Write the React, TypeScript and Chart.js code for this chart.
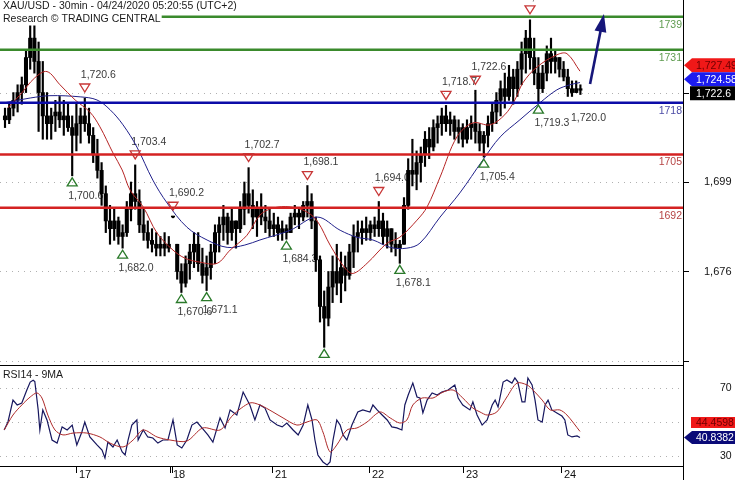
import React, { useEffect, useRef } from "react";
import { Chart, registerables } from "chart.js";
Chart.register(...registerables);

const FONT = '"Liberation Sans", Arial, Helvetica, sans-serif';

// ---- hourly price bars (index 0 = first bar on the left) ----
const opens = [1716,1715,1718,1720,1722,1724,1731,1736,1730,1722,
 1716,1714,1716,1717,1715,1716,1713,1711,1714,1716,
 1714,1711,1706,1702,1696,1689,1687,1689,1685,1686,
 1692,1696,1694,1688,1686,1684,1683,1682,1683,1682,
 1690,1683,1676,1673,1678,1681,1683,1678,1675,1677,
 1681,1686,1688,1690,1686,1689,1687,1692,1696,1693,
 1690,1692,1690,1689,1687,1688,1686,1687,1686,1690,
 1691,1690,1693,1694,1689,1679,1667,1664,1672,1676,
 1673,1677,1675,1681,1685,1686,1687,1686,1688,1687,
 1689,1685,1687,1683,1682,1683,1693,1702,1701,1704,
 1706,1710,1708,1713,1714,1716,1714,1715,1712,1713,
 1710,1713,1714,1712,1709,1711,1714,1717,1720,1723,
 1721,1726,1723,1728,1732,1736,1731,1727,1723,1727,
 1732,1730,1731,1728,1726,1723,1722,1723];
const highs = [1718,1719,1722,1724,1726,1733,1741,1741,1735,1730,
 1722,1718,1720,1721,1720,1719,1716,1719,1718,1720.6,
 1718,1713,1710,1704,1698,1693,1692,1690,1688,1694,
 1699,1703.4,1697,1692,1689,1687,1686,1685,1686,1685,
 1690.2,1683,1678,1680,1683,1686,1686,1682,1680,1683,
 1688,1690,1693,1691,1692,1689,1694,1699,1702.7,1697,
 1694,1696,1693,1692,1691,1690,1689,1688,1691,1693,
 1692,1694,1698.1,1696,1690,1680,1671,1676,1680,1683,
 1681,1680,1683,1688,1689,1689,1690,1689,1690,1694.0,
 1691,1689,1687,1686,1684,1695,1705,1710,1707,1708,
 1712,1713,1715,1716,1718,1718.7,1717,1716,1715,1714,
 1715,1716,1722.6,1714,1712,1716,1719,1722,1725,1727,
 1729,1728,1730,1735,1738,1740.7,1736,1731,1729,1734,
 1736,1733,1731,1730,1728,1725,1725,1724];
const lows = [1713,1714,1716,1717,1719,1722,1728,1727,1712,1710,
 1710,1710,1712,1713,1711,1712,1700.6,1707,1709,1712,
 1709,1704,1700,1693,1686,1683,1684,1683,1682,1685,
 1689,1692,1686,1684,1682,1681,1680,1680,1680,1681,
 1689.8,1674,1670.6,1672,1674,1677,1676,1673,1671.1,1674,
 1678,1681,1684,1683,1684,1682,1686,1688,1691,1687,
 1685,1688,1686,1685,1685,1684,1684,1684.3,1686,1688,
 1687,1689,1690,1687,1676,1663,1656.5,1662,1668,1670,
 1668,1671,1674,1677,1681,1683,1684,1684,1685,1685,
 1683,1682,1681,1680,1678.1,1683,1692,1698,1697,1699,
 1703,1705,1707,1709,1711,1712,1711,1710,1709,1708,
 1709,1710,1709,1707,1705.4,1708,1712,1714,1716,1718,
 1720,1719,1721,1724,1727,1728,1724,1719.3,1722,1725,
 1727,1727,1726,1725,1721,1721,1722,1721.5];
const closes = [1715,1718,1720,1722,1724,1731,1736,1730,1722,1716,
 1714,1716,1717,1715,1716,1713,1711,1714,1716,1714,
 1711,1706,1702,1696,1689,1687,1689,1685,1686,1692,
 1696,1694,1688,1686,1684,1683,1682,1683,1682,1683,
 1690,1676,1673,1678,1681,1683,1678,1675,1677,1681,
 1686,1688,1690,1686,1689,1687,1692,1696,1693,1690,
 1692,1690,1689,1687,1688,1686,1687,1686,1690,1691,
 1690,1693,1694,1689,1679,1667,1664,1672,1676,1673,
 1677,1675,1681,1685,1686,1687,1686,1688,1687,1689,
 1685,1687,1683,1682,1683,1693,1702,1701,1704,1706,
 1710,1708,1713,1714,1716,1714,1715,1712,1713,1710,
 1713,1714,1712,1709,1711,1714,1717,1720,1723,1721,
 1726,1723,1728,1732,1736,1731,1727,1723,1727,1732,
 1730,1731,1728,1726,1723,1722,1723,1722.6];

// ---- moving averages (bar position, price) ----
const maFastX = [0.7,3.6,7.1,10.0,13.1,16.7,20.2,22.6,25.7,27.9,29.8,32.9,36.2,40.0,42.9,46.4,50.5,53.6,57.6,60.7,63.8,67.9,71.9,74.5,77.4,81.0,82.9,86.2,91.0,94.0,98.1,100.5,103.6,107.6,111.4,115.5,119.0,121.4,123.3,126.7,131.4,133.8,136.9];
const maFastV = [1718.1,1721.4,1725.8,1727.4,1724.0,1720.1,1717.0,1713.2,1706.5,1702.1,1696.9,1692.6,1685.9,1681.5,1679.4,1678.4,1678.1,1681.5,1685.3,1690.5,1692.3,1692.6,1691.3,1688.7,1682.8,1676.8,1675.5,1678.1,1683.3,1684.8,1689.2,1692.6,1700.3,1710.6,1714.2,1713.7,1716.3,1720.1,1724.5,1728.6,1731.7,1732.0,1727.49];
const maSlowX = [0,6.0,10.7,17.9,21.9,25.0,28.1,31.4,35.2,38.6,43.3,48.1,52.9,57.1,60.7,67.9,74.3,79.8,83.8,87.6,91.7,95.7,98.8,103.6,108.3,113.8,117.9,122.6,127.4,131.4,134.5,136.9];
const maSlowV = [1719.4,1720.6,1721.2,1720.9,1720.1,1717.6,1713.7,1708.0,1699.5,1693.6,1687.4,1684.1,1682.2,1682.8,1684.1,1686.6,1690.0,1686.6,1684.8,1684.1,1682.2,1682.0,1683.3,1690.0,1696.2,1704.7,1710.6,1715.0,1719.4,1722.7,1724.0,1724.58];

// ---- key levels ----
const levelValues = [1741.5, 1733.0, 1719.4, 1706.1, 1692.4];
const levelLabels = ["1739", "1731", "1718", "1705", "1692"];
const levelColors = ["#3a8a2c", "#3a8a2c", "#0c0ca8", "#d42222", "#d42222"];
const levelTextColors = ["#5f9c50", "#5f9c50", "#4c4ca6", "#b64444", "#b64444"];

// ---- swing annotations ----
const resistX = [19, 31, 40, 58, 72, 89, 105, 112, 125];
const resistV = [1720.6, 1703.4, 1690.2, 1702.7, 1698.1, 1694.0, 1718.7, 1722.6, 1740.7];
const supportX = [16, 28, 42, 48, 67, 76, 94, 114, 127];
const supportV = [1700.6, 1682.0, 1670.6, 1671.1, 1684.3, 1656.5, 1678.1, 1705.4, 1719.3];
const noteX = [135.7];
const noteV = [1720.0];

// ---- forecast arrow ----
const arrowX = [139.3, 142.6];
const arrowV = [1724.2, 1742.2];

// ---- axes ----
const dayLabels = ["17", "18", "21", "22", "23", "24"];
const dayPos = [16.9, 39.3, 63.5, 86.7, 109.1, 132.4];
const extraTickPos = [39.8];
const priceGrid = [1653, 1676, 1699, 1722];
const priceTickLabels = [1699, 1676];
const lastPrice = 1722.6;
const fastLast = 1727.49;
const slowLast = 1724.58;

// ---- RSI ----
const rsiX = [-0.2,0.7,1.9,2.9,4.0,5.2,6.0,6.7,7.1,7.9,8.3,9.0,10.0,11.2,12.4,13.6,14.8,16.0,17.1,18.3,19.0,20.2,21.9,23.1,23.8,24.5,25.7,26.7,27.9,28.6,29.3,30.2,31.4,31.7,32.9,34.0,35.2,36.4,37.6,38.8,40.0,41.0,42.1,43.3,44.5,45.7,46.9,48.3,49.5,51.2,52.4,53.6,55.2,56.7,58.3,59.5,60.7,61.9,63.1,64.8,66.0,67.1,68.6,69.8,71.0,72.1,73.1,73.8,74.5,75.7,76.7,77.4,78.1,79.0,79.8,80.5,81.4,82.6,84.0,85.2,86.9,87.6,88.6,89.8,91.0,92.1,93.3,94.5,95.2,96.0,97.1,98.1,98.8,99.5,100.5,101.7,102.9,104.0,105.5,107.1,107.9,109.0,110.7,111.4,112.4,113.6,114.8,116.0,116.7,117.4,118.6,119.5,120.7,121.4,122.1,123.1,123.8,124.5,125.5,126.2,126.9,127.9,128.6,129.3,130.2,131.4,132.6,133.3,134.0,135.0,136.2,136.9];
const rsiV = [45.3,50.0,62.9,60.0,61.2,68.8,73.5,74.6,73.8,57.1,45.3,57.1,51.2,39.4,37.6,47.1,45.3,48.2,36.5,44.1,50.0,41.2,36.5,33.5,28.8,38.2,35.3,39.4,32.4,30.6,39.4,48.2,51.2,39.4,45.3,41.2,40.6,37.6,39.4,39.4,51.2,36.5,34.7,39.4,48.2,50.0,46.5,42.4,38.2,52.4,46.5,57.1,54.1,67.6,60.0,51.2,60.0,58.2,51.2,48.2,47.1,49.4,45.3,42.4,48.2,60.0,51.2,39.4,30.6,26.5,24.7,26.5,39.4,51.2,48.2,42.4,39.4,48.2,55.9,57.1,55.9,60.0,57.1,54.1,51.2,47.1,46.5,45.3,60.0,65.9,72.9,64.7,64.1,55.3,62.9,67.1,65.9,67.6,68.8,71.8,64.1,60.0,57.1,61.8,54.1,48.2,51.2,60.0,62.9,58.8,73.5,74.7,72.9,75.9,73.5,61.8,61.8,75.9,71.8,62.9,51.2,50.0,60.0,62.9,57.1,55.3,53.5,51.2,42.4,41.2,41.8,40.84];
const rsiMaX = [-0.2,1.9,4.0,6.0,7.6,8.8,10.2,11.9,13.8,16.2,19.5,22.6,25.0,28.1,30.5,32.9,36.2,39.3,43.3,47.1,51.2,54.3,58.3,60.7,63.8,66.2,69.5,71.9,74.3,75.7,77.4,79.0,81.4,83.8,86.2,89.3,91.7,94.0,95.7,97.1,99.3,101.9,104.3,106.7,109.0,111.4,113.1,114.8,117.1,119.5,121.9,124.3,125.7,127.9,129.8,132.1,133.8,136.9];
const rsiMaV = [45.3,54.1,60.0,64.7,67.1,64.1,54.1,45.3,42.4,43.5,43.5,41.2,37.6,35.3,39.4,45.3,41.2,39.4,38.8,46.5,45.3,54.1,61.2,60.0,55.9,52.4,48.2,50.0,51.2,44.1,32.4,36.5,45.3,46.5,50.0,55.9,52.4,49.4,51.2,60.0,64.1,64.1,67.6,68.8,64.1,58.2,55.9,54.1,55.9,64.7,72.9,71.8,68.8,62.9,57.1,57.1,54.1,44.46];
const rsiGrid = [70, 50, 30];
const rsiTickLabels = [70, 30];
const rsiLast = 40.8382;
const rsiMaLast = 44.4598;

// ---- view ranges ----
const X_MIN = -1.19;
const X_MAX = 161.43;
const Y_MIN = 1651.7;
const Y_MAX = 1745.8;
const R_MIN = 23.53;
const R_MAX = 82.94;

const W = 735;
const MAIN_H = 366;
const RSI_H = 114;

const fmt = (v: number, d = 1) =>
  v.toLocaleString("en-US", { minimumFractionDigits: d, maximumFractionDigits: d });

function hLine(ctx: CanvasRenderingContext2D, x0: number, x1: number, y: number) {
  ctx.beginPath();
  ctx.moveTo(x0, y);
  ctx.lineTo(x1, y);
  ctx.stroke();
}

function tag(ctx: CanvasRenderingContext2D, cy: number, h: number, fill: string, text: string, color: string, tip: boolean, left: number) {
  ctx.fillStyle = fill;
  ctx.beginPath();
  if (tip) {
    ctx.moveTo(684, cy);
    ctx.lineTo(692, cy - h / 2);
    ctx.lineTo(W, cy - h / 2);
    ctx.lineTo(W, cy + h / 2);
    ctx.lineTo(692, cy + h / 2);
    ctx.closePath();
  } else {
    ctx.rect(left, cy - h / 2, W - left, h);
  }
  ctx.fill();
  ctx.fillStyle = color;
  ctx.textAlign = "left";
  ctx.textBaseline = "middle";
  ctx.font = `10.5px ${FONT}`;
  ctx.fillText(text, 696, cy + 0.5);
}

const mainPlugin = {
  id: "mainDecor",
  beforeDatasetsDraw(chart: any) {
    const { ctx, chartArea: a } = chart;
    const xs = chart.scales.x;
    const ys = chart.scales.y;
    ctx.save();
    ctx.strokeStyle = "#b0b0b0";
    ctx.lineWidth = 1;
    ctx.setLineDash([1, 5]);
    priceGrid.forEach((v) => hLine(ctx, a.left, a.right, Math.round(ys.getPixelForValue(v)) + 0.5));
    ctx.setLineDash([]);
    ctx.beginPath();
    ctx.rect(a.left, a.top, a.right - a.left, a.bottom - a.top);
    ctx.clip();
    ctx.font = `10.5px ${FONT}`;
    ctx.fillStyle = "#3a3a3a";
    ctx.textAlign = "left";
    ctx.textBaseline = "middle";
    resistX.forEach((bx, k) => {
      const px = xs.getPixelForValue(bx);
      const apex = ys.getPixelForValue(resistV[k]) - 6;
      ctx.fillText(fmt(resistV[k]), px - 4, apex - 17);
    });
    supportX.forEach((bx, k) => {
      const px = xs.getPixelForValue(bx);
      const top = ys.getPixelForValue(supportV[k]) + 2;
      if (top + 18 < a.bottom - 8) ctx.fillText(fmt(supportV[k]), px - 4, top + 18);
    });
    noteX.forEach((bx, k) => {
      const px = xs.getPixelForValue(bx);
      const top = ys.getPixelForValue(noteV[k]) + 2;
      ctx.fillText(fmt(noteV[k]), px - 4, top + 16);
    });
    ctx.restore();
  },
  afterDatasetsDraw(chart: any) {
    const { ctx, chartArea: a } = chart;
    const xs = chart.scales.x;
    const ys = chart.scales.y;
    ctx.save();
    // key levels
    ctx.font = `10.5px ${FONT}`;
    ctx.textBaseline = "middle";
    levelValues.forEach((v, k) => {
      const py = ys.getPixelForValue(v);
      ctx.strokeStyle = levelColors[k];
      ctx.lineWidth = 2.5;
      hLine(ctx, a.left, a.right, py);
      ctx.fillStyle = levelTextColors[k];
      ctx.textAlign = "right";
      ctx.fillText(levelLabels[k], a.right - 1, py + 8);
    });
    // triangles
    ctx.save();
    ctx.beginPath();
    ctx.rect(a.left, a.top, a.right - a.left, a.bottom - a.top);
    ctx.clip();
    ctx.lineWidth = 1.3;
    ctx.strokeStyle = "#c83636";
    resistX.forEach((bx, k) => {
      const px = xs.getPixelForValue(bx);
      const apex = ys.getPixelForValue(resistV[k]) - 6;
      ctx.beginPath();
      ctx.moveTo(px - 5, apex - 8);
      ctx.lineTo(px + 5, apex - 8);
      ctx.lineTo(px, apex);
      ctx.closePath();
      ctx.stroke();
    });
    ctx.strokeStyle = "#2a7a2a";
    supportX.forEach((bx, k) => {
      const px = xs.getPixelForValue(bx);
      const top = ys.getPixelForValue(supportV[k]) + 2;
      ctx.beginPath();
      ctx.moveTo(px - 5, top + 8);
      ctx.lineTo(px + 5, top + 8);
      ctx.lineTo(px, top);
      ctx.closePath();
      ctx.stroke();
    });
    ctx.restore();
    // forecast arrow
    {
      const x0 = xs.getPixelForValue(arrowX[0]);
      const y0 = ys.getPixelForValue(arrowV[0]);
      const x1 = xs.getPixelForValue(arrowX[1]);
      const y1 = ys.getPixelForValue(arrowV[1]);
      const ang = Math.atan2(y1 - y0, x1 - x0);
      const hl = 18;
      const hw = 6;
      const bx = x1 - hl * Math.cos(ang);
      const by = y1 - hl * Math.sin(ang);
      ctx.strokeStyle = "#16167a";
      ctx.fillStyle = "#16167a";
      ctx.lineWidth = 2.6;
      ctx.beginPath();
      ctx.moveTo(x0, y0);
      ctx.lineTo(bx + 3 * Math.cos(ang), by + 3 * Math.sin(ang));
      ctx.stroke();
      ctx.beginPath();
      ctx.moveTo(x1, y1);
      ctx.lineTo(bx + hw * Math.sin(ang), by - hw * Math.cos(ang));
      ctx.lineTo(bx - hw * Math.sin(ang), by + hw * Math.cos(ang));
      ctx.closePath();
      ctx.fill();
    }
    // right axis and borders
    ctx.strokeStyle = "#000";
    ctx.lineWidth = 1;
    ctx.beginPath();
    ctx.moveTo(a.right + 0.5, 0);
    ctx.lineTo(a.right + 0.5, MAIN_H);
    ctx.stroke();
    hLine(ctx, 0, a.right + 1, MAIN_H - 0.5);
    priceGrid.forEach((v) => {
      const py = Math.round(ys.getPixelForValue(v)) + 0.5;
      hLine(ctx, a.right, a.right + 6, py);
    });
    ctx.fillStyle = "#111";
    ctx.font = `11px ${FONT}`;
    ctx.textAlign = "left";
    priceTickLabels.forEach((v) => ctx.fillText(fmt(v, 0), 704, ys.getPixelForValue(v)));
    // price tags
    const blackC = ys.getPixelForValue(lastPrice) + 3;
    const blueC = Math.min(ys.getPixelForValue(slowLast), blackC - 14);
    const redC = Math.min(ys.getPixelForValue(fastLast), blueC - 14);
    tag(ctx, redC, 14, "#f01818", fmt(fastLast, 2), "#6e0000", true, 684);
    tag(ctx, blueC, 14, "#1c1cf0", fmt(slowLast, 2), "#ffffff", true, 684);
    tag(ctx, blackC, 14, "#000000", fmt(lastPrice, 1), "#ffffff", false, 690);
    // header
    ctx.font = `10.5px ${FONT}`;
    ctx.textAlign = "left";
    const l1 = "XAU/USD - 30min - 04/24/2020 05:20:55 (UTC+2)";
    const l2 = "Research \u00A9 TRADING CENTRAL";
    ctx.fillStyle = "#fff";
    ctx.fillRect(0, 0, ctx.measureText(l1).width + 4, 12.5);
    ctx.fillRect(0, 12.5, ctx.measureText(l2).width + 4, 13);
    ctx.fillStyle = "#1a1a1a";
    ctx.fillText(l1, 3, 6.5);
    ctx.fillText(l2, 3, 19.5);
    ctx.restore();
  },
};

const rsiPlugin = {
  id: "rsiDecor",
  beforeDatasetsDraw(chart: any) {
    const { ctx, chartArea: a } = chart;
    const ys = chart.scales.y;
    ctx.save();
    ctx.strokeStyle = "#b0b0b0";
    ctx.lineWidth = 1;
    ctx.setLineDash([1, 5]);
    rsiGrid.forEach((v) => hLine(ctx, a.left, a.right, Math.round(ys.getPixelForValue(v)) + 0.5));
    ctx.setLineDash([]);
    ctx.font = `10.5px ${FONT}`;
    ctx.fillStyle = "#1a1a1a";
    ctx.textAlign = "left";
    ctx.textBaseline = "middle";
    ctx.fillText("RSI14 - 9MA", 3, 9);
    ctx.restore();
  },
  afterDatasetsDraw(chart: any) {
    const { ctx, chartArea: a } = chart;
    const xs = chart.scales.x;
    const ys = chart.scales.y;
    ctx.save();
    ctx.strokeStyle = "#000";
    ctx.lineWidth = 1;
    hLine(ctx, 0, a.right + 1, a.bottom - 0.5);
    ctx.beginPath();
    ctx.moveTo(a.right + 0.5, 0);
    ctx.lineTo(a.right + 0.5, RSI_H);
    ctx.stroke();
    ctx.font = `10.5px ${FONT}`;
    ctx.textBaseline = "middle";
    ctx.fillStyle = "#111";
    ctx.textAlign = "left";
    rsiTickLabels.forEach((v) => ctx.fillText(String(v), 720, ys.getPixelForValue(v)));
    // day ticks
    [...dayPos, ...extraTickPos].forEach((p) => {
      const px = Math.round(xs.getPixelForValue(p)) + 0.5;
      ctx.beginPath();
      ctx.moveTo(px, a.bottom);
      ctx.lineTo(px, a.bottom + 6);
      ctx.stroke();
    });
    ctx.font = `11px ${FONT}`;
    dayLabels.forEach((d, k) => {
      const px = Math.round(xs.getPixelForValue(dayPos[k]));
      ctx.fillText(d, px + 3, a.bottom + 8);
    });
    // value tags
    const navyC = ys.getPixelForValue(rsiLast);
    const redC = Math.min(ys.getPixelForValue(rsiMaLast), navyC - 15);
    tag(ctx, redC, 11, "#f01818", rsiMaLast.toFixed(4), "#6e0000", false, 691);
    tag(ctx, navyC, 13, "#0a0a78", rsiLast.toFixed(4), "#ffffff", true, 684);
    ctx.restore();
  },
};

export default function App() {
  const mainRef = useRef<HTMLCanvasElement>(null);
  const rsiRef = useRef<HTMLCanvasElement>(null);

  useEffect(() => {
    const bars = highs.map((h, i) => ({ x: i, y: [lows[i], h] }));
    const bodies = opens.map((o, i) => ({
      x: i,
      y: [Math.min(o, closes[i]), Math.max(o, closes[i])],
    }));
    const fast = maFastX.map((x, i) => ({ x, y: maFastV[i] }));
    const slow = maSlowX.map((x, i) => ({ x, y: maSlowV[i] }));

    const main = new Chart(mainRef.current as HTMLCanvasElement, {
      type: "bar",
      data: {
        datasets: [
          { type: "bar", data: bars as any, backgroundColor: "#000", barThickness: 1.5, grouped: false, order: 4 } as any,
          { type: "bar", data: bodies as any, backgroundColor: "#000", barThickness: 3.4, grouped: false, minBarLength: 1, order: 3 } as any,
          { type: "line", data: slow, borderColor: "#20208a", borderWidth: 1, pointRadius: 0, tension: 0.35, order: 2 } as any,
          { type: "line", data: fast, borderColor: "#b52424", borderWidth: 1, pointRadius: 0, tension: 0.35, order: 1 } as any,
        ],
      },
      options: {
        responsive: false,
        devicePixelRatio: 1,
        animation: false,
        events: [],
        layout: { padding: { left: 0, right: 52, top: 0, bottom: 0 } },
        scales: {
          x: { type: "linear", min: X_MIN, max: X_MAX, display: false, offset: false },
          y: { type: "linear", min: Y_MIN, max: Y_MAX, display: false },
        },
        plugins: { legend: { display: false }, tooltip: { enabled: false } },
      },
      plugins: [mainPlugin],
    });

    const rsiLine = rsiX.map((x, i) => ({ x, y: rsiV[i] }));
    const rsiMaLine = rsiMaX.map((x, i) => ({ x, y: rsiMaV[i] }));
    const rsi = new Chart(rsiRef.current as HTMLCanvasElement, {
      type: "line",
      data: {
        datasets: [
          { data: rsiLine, borderColor: "#16165e", borderWidth: 1.2, pointRadius: 0, tension: 0, order: 2 },
          { data: rsiMaLine, borderColor: "#ad2a2a", borderWidth: 1, pointRadius: 0, tension: 0.3, order: 1 },
        ],
      },
      options: {
        responsive: false,
        devicePixelRatio: 1,
        animation: false,
        events: [],
        layout: { padding: { left: 0, right: 52, top: 0, bottom: 13 } },
        scales: {
          x: { type: "linear", min: X_MIN, max: X_MAX, display: false },
          y: { type: "linear", min: R_MIN, max: R_MAX, display: false },
        },
        plugins: { legend: { display: false }, tooltip: { enabled: false } },
      },
      plugins: [rsiPlugin],
    });

    return () => {
      main.destroy();
      rsi.destroy();
    };
  }, []);

  return (
    <div style={{ position: "absolute", left: 0, top: 0, width: W, height: MAIN_H + RSI_H, background: "#fff" }}>
      <canvas ref={mainRef} width={W} height={MAIN_H} style={{ position: "absolute", left: 0, top: 0, width: W, height: MAIN_H }} />
      <canvas ref={rsiRef} width={W} height={RSI_H} style={{ position: "absolute", left: 0, top: MAIN_H, width: W, height: RSI_H }} />
    </div>
  );
}
